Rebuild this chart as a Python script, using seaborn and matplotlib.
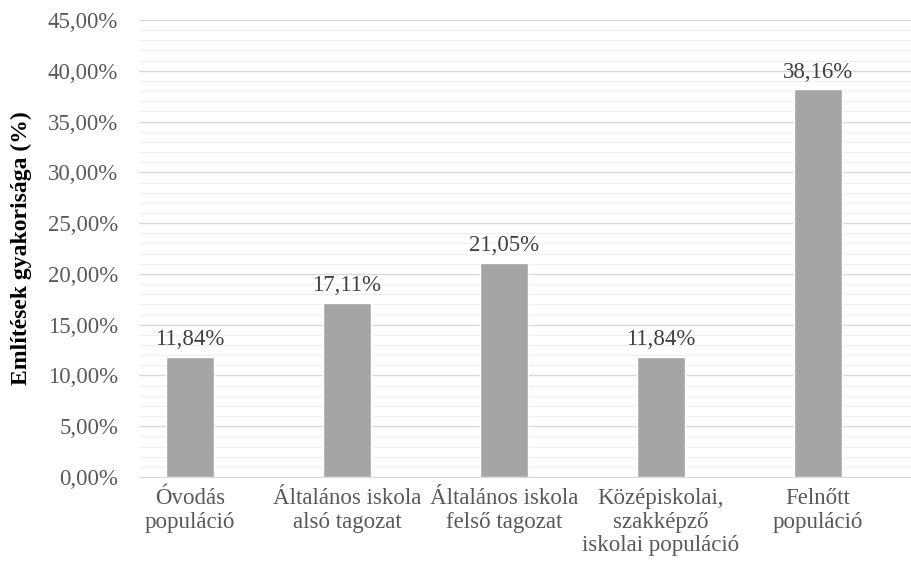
import matplotlib.pyplot as plt
import pandas as pd
import seaborn as sns
from matplotlib.ticker import MultipleLocator, FuncFormatter

# Data
categories = ["Óvodás\npopuláció",
              "Általános iskola\nalsó tagozat",
              "Általános iskola\nfelső tagozat",
              "Középiskolai,\nszakképző\niskolai populáció",
              "Felnőtt\npopuláció"]
values = [11.84, 17.11, 21.05, 11.84, 38.16]
value_labels = ["11,84%", "17,11%", "21,05%", "11,84%", "38,16%"]

df = pd.DataFrame({"cat": categories, "val": values})

sns.set_style("white")
plt.rcParams["font.family"] = ["Liberation Serif", "DejaVu Serif"]
text_color = "#595959"

fig, ax = plt.subplots(figsize=(9.12, 5.62), dpi=100)
fig.subplots_adjust(left=0.1524, right=1.0, top=0.9644, bottom=0.1512)

sns.barplot(data=df, x="cat", y="val", color="#A5A5A5", width=0.306,
            saturation=1, ax=ax, zorder=3)

ax.set_xlim(-0.325, 4.6)
ax.set_ylim(0, 45)
ax.yaxis.set_major_locator(MultipleLocator(5))
ax.yaxis.set_minor_locator(MultipleLocator(1))
ax.yaxis.set_major_formatter(FuncFormatter(lambda v, p: f"{v:.2f}".replace(".", ",") + "%"))
ax.grid(axis="y", which="major", color="#D9D9D9", linewidth=1.0, zorder=0)
ax.grid(axis="y", which="minor", color="#F0F0F0", linewidth=1.0, zorder=0)
ax.tick_params(axis="both", which="both", length=0, labelsize=16.5, colors=text_color)
ax.tick_params(axis="y", pad=15)
ax.tick_params(axis="x", pad=8)
for s in ["top", "right", "left"]:
    ax.spines[s].set_visible(False)
ax.spines["bottom"].set_color("#D9D9D9")

for i, (v, lab) in enumerate(zip(values, value_labels)):
    ax.annotate(lab, (i, v), xytext=(0, 5), textcoords="offset points",
                ha="center", va="bottom", fontsize=16.5, color="#404040")

ax.set_xlabel("")
ax.set_ylabel("Említések gyakorisága (%)", fontsize=17, fontweight="bold",
              color="black")
ax.yaxis.set_label_coords(-0.138, 0.5)
for t in ax.get_xticklabels():
    t.set_verticalalignment("top")
    t.set_linespacing(1.15)

fig.savefig("out.png", dpi=100)
